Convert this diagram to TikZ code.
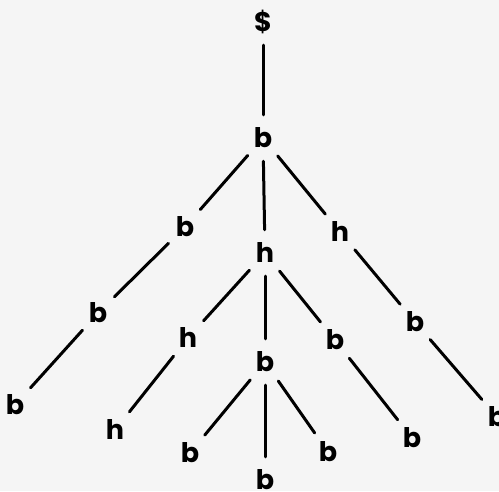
\documentclass[tikz,border=0pt]{standalone}
\usepackage{fontspec}
\setsansfont{Poppins}
\begin{document}
\begin{tikzpicture}[x=1pt,y=-1pt,
  lbl/.style={circle,minimum size=46pt,inner sep=0pt,font=\sffamily\bfseries\fontsize{27}{27}\selectfont},
  edge/.style={line width=3pt,line cap=round}]
\fill[black!4] (0,0) rectangle (499,491);
\useasboundingbox (0,0) rectangle (499,491);
\node[lbl] (r) at (263,22) {\$};
\node[lbl] (b0) at (263,138) {b};
\node[lbl] (bL) at (185,227) {b};
\node[lbl] (hC) at (265,253) {h};
\node[lbl] (hR) at (340,232) {h};
\node[lbl] (bLL) at (98,313) {b};
\node[lbl] (hCL) at (188,338) {h};
\node[lbl] (bC) at (265,362) {b};
\node[lbl] (bCR) at (335,340) {b};
\node[lbl] (bRR) at (415,322) {b};
\node[lbl] (bLLL) at (15,405) {b};
\node[lbl] (hCLL) at (115,430) {h};
\node[lbl] (bCl) at (190,453) {b};
\node[lbl] (bCb) at (265,480) {b};
\node[lbl] (bCr) at (328,452) {b};
\node[lbl] (bCR2) at (412,438) {b};
\node[lbl] (bRRR) at (497,417) {b};
\draw[edge] (r) -- (b0);
\draw[edge] (b0) -- (bL);
\draw[edge] (b0) -- (hC);
\draw[edge] (b0) -- (hR);
\draw[edge] (bL) -- (bLL);
\draw[edge] (bLL) -- (bLLL);
\draw[edge] (hC) -- (hCL);
\draw[edge] (hC) -- (bC);
\draw[edge] (hC) -- (bCR);
\draw[edge] (hCL) -- (hCLL);
\draw[edge] (bC) -- (bCl);
\draw[edge] (bC) -- (bCb);
\draw[edge] (bC) -- (bCr);
\draw[edge] (bCR) -- (bCR2);
\draw[edge] (hR) -- (bRR);
\draw[edge] (bRR) -- (bRRR);
\end{tikzpicture}
\end{document}
